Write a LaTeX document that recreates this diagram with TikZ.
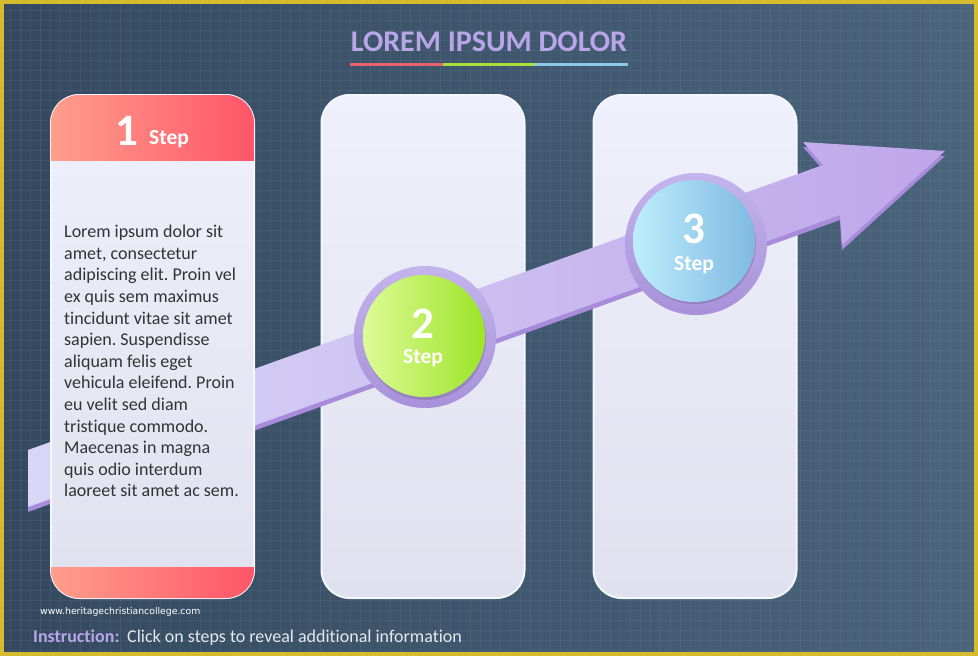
\documentclass[tikz,border=0pt]{standalone}
\usepackage{fontspec}
\setmainfont[Ligatures=NoCommon]{Carlito}
\newfontfamily\wmfont{DejaVu Sans}
\definecolor{bgl}{HTML}{34495F}
\definecolor{bgr}{HTML}{4A647C}
\definecolor{gridc}{HTML}{7F98B0}
\definecolor{frame}{HTML}{D6BB2C}
\definecolor{titlec}{HTML}{B9A6E8}
\definecolor{ulred}{HTML}{E8626E}
\definecolor{ulgreen}{HTML}{A8E03C}
\definecolor{ulblue}{HTML}{8CCBE8}
\definecolor{cardtop}{HTML}{EEF0FB}
\definecolor{cardbot}{HTML}{DFE2EE}
\definecolor{cardedge}{HTML}{F4F6FD}
\definecolor{hdl}{HTML}{FF9E8C}
\definecolor{hdr}{HTML}{FF5568}
\definecolor{arrl}{HTML}{D9D6F7}
\definecolor{arrr}{HTML}{BFA6EA}
\definecolor{arrdark}{HTML}{A88CDB}
\definecolor{ringtop}{HTML}{C4B4EC}
\definecolor{ringbot}{HTML}{A891DA}
\definecolor{grl}{HTML}{DDFB96}
\definecolor{grr}{HTML}{9CE428}
\definecolor{bll}{HTML}{BDEEFB}
\definecolor{blr}{HTML}{80B9E3}
\definecolor{bodyc}{HTML}{333333}
\definecolor{instrc}{HTML}{E6E8EF}
\frenchspacing
\begin{document}
\begin{tikzpicture}[x=1pt,y=-1pt,
  card/.style={draw=cardedge, line width=2pt, rounded corners=28pt,
    top color=cardtop, bottom color=cardbot,
    minimum width=203pt, minimum height=503pt, inner sep=0pt},
  ring/.style={circle, top color=ringtop, bottom color=ringbot,
    minimum size=142pt, inner sep=0pt},
  ball/.style={circle, minimum size=122pt, inner sep=0pt},
  bignum/.style={text=white, font=\bfseries\fontsize{45}{45}\selectfont, inner sep=0pt, anchor=base},
  steplbl/.style={text=white, font=\bfseries\fontsize{21.5}{21.5}\selectfont, inner sep=0pt, anchor=base},
  ulseg/.style={line width=3pt}]
\useasboundingbox (0,0) rectangle (978,656);
% background
\shade[left color=bgl, right color=bgr] (0,0) rectangle (978,656);
\foreach \gx in {0,10,...,970} {\draw[gridc, opacity=0.14, line width=0.4pt] (\gx,0) -- (\gx,656);}
\foreach \gy in {0,10,...,650} {\draw[gridc, opacity=0.14, line width=0.4pt] (0,\gy) -- (978,\gy);}
\draw[frame, line width=4pt] (2,2) rectangle (976,654);
% title
\node[text=titlec, font=\bfseries\fontsize{30}{30}\selectfont, anchor=base, inner sep=0pt] (title) at (489,51) {LOREM IPSUM DOLOR};
\coordinate (u0) at (350,64);
\coordinate (u1) at (443,64);
\coordinate (u2) at (535,64);
\coordinate (u3) at (628,64);
\draw[ulseg, ulred] (u0) -- (u1);
\draw[ulseg, ulgreen] (u1) -- (u2);
\draw[ulseg, ulblue] (u2) -- (u3);
% cards 2 and 3
\node[card] (card2) at (423,346.5) {};
\node[card] (card3) at (695,346.5) {};
% arrow
\fill[arrdark] (28,455) -- (823,170) -- (803,147) -- (945,156) -- (842,250) -- (840,220) -- (28,512) -- cycle;
\shade[left color=arrl, right color=arrr] (28,450) -- (823,165) -- (803,142) -- (945,151) -- (842,245) -- (840,215) -- (28,507) -- cycle;
% card 1
\node[card] (card1) at (152.5,346.5) {};
\begin{scope}
\clip[rounded corners=28pt] (51,95) rectangle (254,598);
\shade[left color=hdl, right color=hdr] (51,95) rectangle (254,160);
\shade[left color=hdl, right color=hdr] (51,567) rectangle (254,598);
\end{scope}
\node[bignum, anchor=base] (n1) at (127,145) {1};
\node[steplbl, anchor=base west] (s1) at (149,144) {Step};
\node[anchor=north west, inner sep=0pt, align=left, text=bodyc,
  font=\fontsize{18}{21.6}\selectfont] (body) at (64,225)
  {Lorem ipsum dolor sit\\amet, consectetur\\adipiscing elit. Proin vel\\ex quis sem maximus\\tincidunt vitae sit amet\\sapien. Suspendisse\\aliquam felis eget\\vehicula eleifend. Proin\\eu velit sed diam\\tristique commodo.\\Maecenas in magna\\quis odio interdum\\laoreet sit amet ac sem.};
% circle 2
\node[ring] (ring2) at (425,337) {};
\node[ball, fill=black, opacity=0.12] (sh2) at (425,339) {};
\node[ball, left color=grl, right color=grr] (ball2) at (424,336) {};
\node[bignum] (n2) at (423,338) {2};
\node[steplbl] (s2) at (423,363) {Step};
% circle 3
\node[ring] (ring3) at (696,244) {};
\node[ball, fill=black, opacity=0.12] (sh3) at (695,243) {};
\node[ball, left color=bll, right color=blr] (ball3) at (694,241) {};
\node[bignum] (n3) at (694,243) {3};
\node[steplbl] (s3) at (694,270) {Step};
% footer texts
\node[anchor=base west, inner sep=0pt, text=white, font=\wmfont\fontsize{9.3}{9.3}\selectfont] (wm) at (40,614) {www.heritagechristiancollege.com};
\node[anchor=base west, inner sep=0pt, text=titlec, font=\bfseries\fontsize{18}{18}\selectfont] (instr) at (33,642) {Instruction:};
\node[anchor=base west, inner sep=0pt, text=instrc, font=\fontsize{18}{18}\selectfont] (instr2) at (127,642) {Click on steps to reveal additional information};
\end{tikzpicture}
\end{document}
